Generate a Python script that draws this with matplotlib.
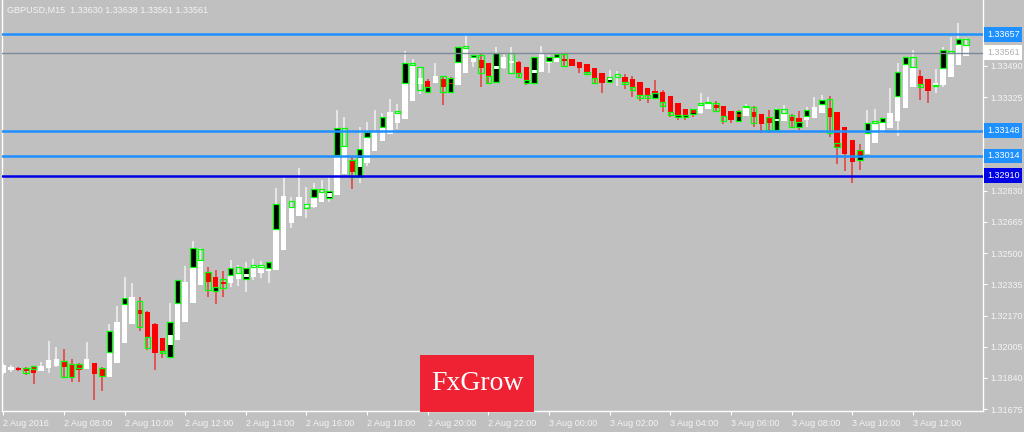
import matplotlib
matplotlib.use("Agg")
import matplotlib.pyplot as plt
from matplotlib.patches import Rectangle

# M15 bars, 2 Aug 2016 06:00 -> 3 Aug 13:45
opens = [
    1.31866, 1.31882, 1.31893, 1.31893, 1.31898, 1.31877, 1.31893, 1.31903, 1.31930, 1.31914,
    1.31914, 1.31888, 1.31919, 1.31893, 1.31845, 1.31919, 1.32024, 1.32125, 1.32199, 1.32188,
    1.32125, 1.32051, 1.32014, 1.32040, 1.32135, 1.32236, 1.32332, 1.32400, 1.32374, 1.32347,
    1.32342, 1.32363, 1.32374, 1.32374, 1.32395, 1.32406, 1.32411, 1.32517, 1.32659, 1.32696,
    1.32744, 1.32744, 1.32770, 1.32797, 1.32808, 1.32919, 1.32993, 1.32956, 1.32977, 1.33041,
    1.33093, 1.33130, 1.33188, 1.33209, 1.33305, 1.33395, 1.33411, 1.33400, 1.33421, 1.33400,
    1.33390, 1.33453, 1.33511, 1.33522, 1.33506, 1.33474, 1.33480, 1.33506, 1.33511, 1.33485,
    1.33453, 1.33458, 1.33506, 1.33511, 1.33527, 1.33527, 1.33511, 1.33501, 1.33480, 1.33453,
    1.33416, 1.33427, 1.33432, 1.33421, 1.33405, 1.33374, 1.33358, 1.33352, 1.33331, 1.33294,
    1.33262, 1.33257, 1.33241, 1.33262, 1.33284, 1.33278, 1.33252, 1.33236, 1.33225, 1.33246,
    1.33236, 1.33215, 1.33199, 1.33199, 1.33220, 1.33215, 1.33204, 1.33215, 1.33241, 1.33268,
    1.33246, 1.33167, 1.33098, 1.33041, 1.33025, 1.33082, 1.33135, 1.33161, 1.33199, 1.33268,
    1.33379, 1.33437, 1.33421, 1.33385, 1.33390, 1.33432, 1.33496, 1.33543]
highs = [
    1.31919, 1.31909, 1.31898, 1.31898, 1.31903, 1.31924, 1.32035, 1.32003, 1.31992, 1.31940,
    1.31919, 1.32029, 1.31920, 1.31898, 1.32125, 1.32220, 1.32374, 1.32342, 1.32268, 1.32194,
    1.32128, 1.32051, 1.32236, 1.32236, 1.32432, 1.32564, 1.32527, 1.32427, 1.32411, 1.32406,
    1.32464, 1.32438, 1.32453, 1.32469, 1.32459, 1.32453, 1.32845, 1.32908, 1.32797, 1.32951,
    1.32850, 1.32871, 1.32887, 1.32898, 1.33257, 1.33220, 1.33014, 1.33167, 1.33193, 1.33257,
    1.33241, 1.33315, 1.33289, 1.33570, 1.33527, 1.33485, 1.33421, 1.33506, 1.33437, 1.33432,
    1.33590, 1.33654, 1.33548, 1.33554, 1.33506, 1.33590, 1.33559, 1.33590, 1.33517, 1.33485,
    1.33538, 1.33596, 1.33548, 1.33559, 1.33554, 1.33527, 1.33511, 1.33501, 1.33480, 1.33453,
    1.33469, 1.33464, 1.33448, 1.33437, 1.33405, 1.33374, 1.33416, 1.33363, 1.33331, 1.33294,
    1.33262, 1.33262, 1.33347, 1.33326, 1.33305, 1.33278, 1.33252, 1.33257, 1.33289, 1.33278,
    1.33236, 1.33257, 1.33268, 1.33284, 1.33236, 1.33252, 1.33273, 1.33326, 1.33337, 1.33331,
    1.33246, 1.33167, 1.33098, 1.33077, 1.33257, 1.33262, 1.33215, 1.33374, 1.33506, 1.33538,
    1.33575, 1.33469, 1.33421, 1.33474, 1.33590, 1.33643, 1.33717, 1.33638]
lows = [
    1.31856, 1.31871, 1.31877, 1.31856, 1.31808, 1.31877, 1.31866, 1.31898, 1.31845, 1.31818,
    1.31818, 1.31888, 1.31723, 1.31771, 1.31845, 1.31919, 1.32024, 1.32125, 1.32088, 1.31988,
    1.31882, 1.31946, 1.31951, 1.32040, 1.32135, 1.32236, 1.32332, 1.32268, 1.32231, 1.32268,
    1.32321, 1.32326, 1.32294, 1.32358, 1.32369, 1.32342, 1.32411, 1.32517, 1.32633, 1.32696,
    1.32686, 1.32739, 1.32770, 1.32770, 1.32808, 1.32919, 1.32839, 1.32871, 1.32961, 1.33041,
    1.33093, 1.33130, 1.33156, 1.33209, 1.33305, 1.33342, 1.33352, 1.33400, 1.33284, 1.33347,
    1.33390, 1.33453, 1.33485, 1.33379, 1.33400, 1.33405, 1.33474, 1.33453, 1.33432, 1.33390,
    1.33400, 1.33458, 1.33453, 1.33511, 1.33485, 1.33490, 1.33453, 1.33448, 1.33395, 1.33347,
    1.33400, 1.33385, 1.33368, 1.33326, 1.33305, 1.33294, 1.33321, 1.33246, 1.33220, 1.33204,
    1.33204, 1.33220, 1.33236, 1.33262, 1.33246, 1.33183, 1.33188, 1.33193, 1.33225, 1.33167,
    1.33135, 1.33135, 1.33151, 1.33199, 1.33167, 1.33151, 1.33167, 1.33215, 1.33241, 1.33114,
    1.32972, 1.32935, 1.32871, 1.32940, 1.33025, 1.33082, 1.33135, 1.33161, 1.33119, 1.33268,
    1.33379, 1.33310, 1.33294, 1.33347, 1.33379, 1.33432, 1.33496, 1.33543]
closes = [
    1.31909, 1.31898, 1.31882, 1.31874, 1.31866, 1.31903, 1.31935, 1.31940, 1.31898, 1.31845,
    1.31882, 1.31940, 1.31861, 1.31851, 1.31977, 1.32135, 1.32231, 1.32268, 1.32178, 1.32056,
    1.31972, 1.31983, 1.32067, 1.32236, 1.32347, 1.32427, 1.32464, 1.32347, 1.32321, 1.32337,
    1.32385, 1.32395, 1.32390, 1.32438, 1.32438, 1.32422, 1.32627, 1.32802, 1.32744, 1.32797,
    1.32755, 1.32797, 1.32823, 1.32818, 1.33020, 1.33066, 1.32929, 1.33004, 1.33114, 1.33141,
    1.33167, 1.33246, 1.33241, 1.33400, 1.33496, 1.33427, 1.33379, 1.33437, 1.33379, 1.33395,
    1.33511, 1.33585, 1.33538, 1.33480, 1.33437, 1.33490, 1.33538, 1.33517, 1.33453, 1.33416,
    1.33469, 1.33554, 1.33517, 1.33538, 1.33517, 1.33490, 1.33480, 1.33458, 1.33427, 1.33400,
    1.33427, 1.33432, 1.33405, 1.33379, 1.33337, 1.33337, 1.33347, 1.33299, 1.33246, 1.33230,
    1.33230, 1.33241, 1.33284, 1.33294, 1.33268, 1.33225, 1.33204, 1.33220, 1.33273, 1.33220,
    1.33183, 1.33188, 1.33209, 1.33241, 1.33199, 1.33193, 1.33225, 1.33273, 1.33289, 1.33220,
    1.33061, 1.33025, 1.32982, 1.33020, 1.33135, 1.33188, 1.33193, 1.33241, 1.33331, 1.33501,
    1.33485, 1.33395, 1.33358, 1.33400, 1.33480, 1.33559, 1.33606, 1.33601]

# green-edged overlay boxes (bar index, top, bottom, dark fill or hollow)
box_bar = [3, 4, 8, 9, 10, 13, 14, 16, 18, 19, 21, 22, 23, 25, 26, 27, 28, 29, 30, 31,
           32, 33, 34, 35, 36, 38, 40, 41, 42, 43, 44, 45, 46, 47, 48, 50, 52, 53, 54, 55,
           56, 58, 59, 60, 61, 62, 63, 64, 65, 67, 68, 69, 70, 72, 73, 74, 77, 78, 80, 81,
           82, 83, 84, 85, 86, 87, 88, 89, 90, 91, 92, 93, 94, 95, 97, 98, 99, 101, 102, 103,
           104, 105, 106, 108, 109, 110, 113, 114, 115, 116, 118, 119, 120, 121, 123, 124, 125, 126, 127]
box_top = [1.31893, 1.31903, 1.31930, 1.31914, 1.31914, 1.31893, 1.32088, 1.32263, 1.32247, 1.32056,
           1.31983, 1.32135, 1.32358, 1.32527, 1.32522, 1.32400, 1.32321, 1.32363, 1.32422, 1.32427,
           1.32422, 1.32438, 1.32438, 1.32453, 1.32760, 1.32776, 1.32760, 1.32839, 1.32839, 1.32829,
           1.33162, 1.33162, 1.32993, 1.33051, 1.33141, 1.33220, 1.33252, 1.33506, 1.33506, 1.33485,
           1.33379, 1.33437, 1.33427, 1.33590, 1.33596, 1.33548, 1.33548, 1.33437, 1.33559, 1.33559,
           1.33453, 1.33416, 1.33538, 1.33538, 1.33554, 1.33554, 1.33458, 1.33427, 1.33432, 1.33448,
           1.33405, 1.33379, 1.33337, 1.33337, 1.33347, 1.33299, 1.33246, 1.33230, 1.33230, 1.33262,
           1.33294, 1.33299, 1.33294, 1.33225, 1.33252, 1.33278, 1.33273, 1.33220, 1.33262, 1.33262,
           1.33230, 1.33193, 1.33257, 1.33310, 1.33315, 1.33082, 1.33046, 1.33188, 1.33199, 1.33215,
           1.33458, 1.33538, 1.33538, 1.33395, 1.33390, 1.33575, 1.33570, 1.33632, 1.33632]
box_bot = [1.31866, 1.31887, 1.31845, 1.31845, 1.31893, 1.31851, 1.31977, 1.32231, 1.32109, 1.31998,
           1.31972, 1.31951, 1.32236, 1.32427, 1.32464, 1.32305, 1.32300, 1.32316, 1.32385, 1.32395,
           1.32363, 1.32427, 1.32427, 1.32422, 1.32627, 1.32744, 1.32739, 1.32797, 1.32823, 1.32792,
           1.33020, 1.33066, 1.32903, 1.32903, 1.33114, 1.33167, 1.33241, 1.33400, 1.33496, 1.33363,
           1.33352, 1.33352, 1.33352, 1.33511, 1.33585, 1.33538, 1.33453, 1.33400, 1.33405, 1.33453,
           1.33432, 1.33400, 1.33400, 1.33517, 1.33538, 1.33490, 1.33448, 1.33400, 1.33405, 1.33432,
           1.33395, 1.33363, 1.33321, 1.33321, 1.33321, 1.33278, 1.33230, 1.33220, 1.33220, 1.33236,
           1.33284, 1.33294, 1.33252, 1.33199, 1.33199, 1.33273, 1.33188, 1.33151, 1.33151, 1.33241,
           1.33167, 1.33167, 1.33225, 1.33289, 1.33135, 1.33061, 1.32993, 1.33135, 1.33188, 1.33193,
           1.33331, 1.33501, 1.33485, 1.33379, 1.33385, 1.33480, 1.33559, 1.33606, 1.33601]
box_dark = [0, 1, 0, 0, 1, 0, 1, 1, 0, 0,
            0, 1, 1, 1, 0, 0, 1, 0, 1, 0,
            1, 1, 0, 1, 1, 0, 0, 1, 0, 1,
            1, 0, 0, 1, 1, 1, 0, 1, 0, 0,
            1, 0, 1, 1, 0, 1, 0, 0, 1, 0,
            0, 1, 1, 1, 1, 0, 0, 0, 1, 0,
            0, 0, 0, 0, 1, 0, 0, 1, 1, 1,
            0, 0, 0, 0, 1, 0, 0, 0, 1, 0,
            0, 1, 1, 1, 0, 0, 1, 1, 0, 1,
            1, 1, 0, 0, 0, 1, 0, 1, 0]

ytick_vals = [1.31675, 1.31840, 1.32005, 1.32170, 1.32335, 1.32500, 1.32665,
              1.32830, 1.32995, 1.33160, 1.33325, 1.33490, 1.33655]
# labels covered by the level boxes in the terminal
ytick_hidden = [1.32995, 1.33160, 1.33655]
xtick_pos = [0, 8, 16, 24, 32, 40, 48, 56, 64, 72, 80, 88, 96, 104, 112, 120]
xtick_labels = ["2 Aug 2016", "2 Aug 08:00", "2 Aug 10:00", "2 Aug 12:00", "2 Aug 14:00",
                "2 Aug 16:00", "2 Aug 18:00", "2 Aug 20:00", "2 Aug 22:00", "3 Aug 00:00",
                "3 Aug 02:00", "3 Aug 04:00", "3 Aug 06:00", "3 Aug 08:00", "3 Aug 10:00",
                "3 Aug 12:00"]

levels = [1.33657, 1.33148, 1.33014, 1.32910]
level_colors = ["#1e90ff", "#1e90ff", "#1e90ff", "#0000e6"]
bid = 1.33561

bg = "#c0c0c0"
fig = plt.figure(figsize=(10.24, 4.32), dpi=100, facecolor=bg)
ax = fig.add_axes([2 / 1024, 21 / 432, 981 / 1024, 411 / 432])
ax.set_facecolor(bg)

n = len(opens)
x = list(range(n))
w = 0.72
up = [c >= o for o, c in zip(opens, closes)]

# wicks
wick_col = ["#f2f2f2" if u else "#e63c3c" for u in up]
ax.vlines(x, lows, highs, colors=wick_col, linewidth=1.1, zorder=2)

# dark fills of overlay boxes
dk = [i for i, d in enumerate(box_dark) if d]
ax.bar([box_bar[i] for i in dk], [box_top[i] - box_bot[i] for i in dk], w,
       bottom=[box_bot[i] for i in dk], color="#000000", zorder=3)

# main bodies
bot = [min(o, c) for o, c in zip(opens, closes)]
hgt = [max(abs(c - o), 0.00003) for o, c in zip(opens, closes)]
ax.bar(x, hgt, w, bottom=bot, color=["#ffffff" if u else "#ff0000" for u in up],
       linewidth=0, zorder=4)

# green outlines
ax.bar(box_bar, [max(t - b, 0.00003) for t, b in zip(box_top, box_bot)], w,
       bottom=box_bot, facecolor="none", edgecolor="#00ff00", linewidth=0.9, zorder=5)

# level lines
for lv, col in zip(levels, level_colors):
    ax.axhline(lv, color=col, linewidth=1.8, zorder=6)
ax.axhline(bid, color="#7b8a99", linewidth=1.0, zorder=6)

ax.set_xlim(-0.17, 129.25)
ax.set_ylim(1.31665, 1.33839)

for s in ["left", "bottom", "right"]:
    ax.spines[s].set_color("white")
    ax.spines[s].set_linewidth(1.0)
ax.spines["top"].set_visible(False)

ax.yaxis.tick_right()
ax.set_yticks(ytick_vals)
ax.set_yticklabels(["" if v in ytick_hidden else f"{v:.5f}" for v in ytick_vals],
                   fontfamily="Liberation Sans")
ax.tick_params(axis="y", colors="white", labelcolor="#f4f4f4", direction="out",
               length=3, width=0.8, labelsize=6.5, pad=2)
ax.set_xticks(xtick_pos)
ax.set_xticklabels(xtick_labels, fontfamily="Liberation Sans", ha="left")
ax.tick_params(axis="x", colors="white", labelcolor="#f4f4f4", direction="out",
               length=3, width=0.8, labelsize=6.5, pad=3)

# price label boxes at the right
tr = ax.get_yaxis_transform()
for lv, col in zip(levels, level_colors):
    ax.text(1.004, lv, f"{lv:.5f}", transform=tr, va="center", ha="left",
            fontsize=6.5, fontfamily="Liberation Sans", color="white", clip_on=False,
            zorder=10, bbox=dict(boxstyle="square,pad=0.3", fc=col, ec="none"))
ax.text(1.004, bid, f"{bid:.5f}", transform=tr, va="center", ha="left",
        fontsize=6.5, fontfamily="Liberation Sans", color="#b0b0b0", clip_on=False,
        zorder=10, bbox=dict(boxstyle="square,pad=0.3", fc="white", ec="none"))

fig.text(7 / 1024, 1 - 10 / 432, "GBPUSD,M15  1.33630 1.33638 1.33561 1.33561",
         fontsize=6.5, fontfamily="Liberation Sans", color="#f4f4f4", va="center")

# logo
fig.patches.append(Rectangle((420 / 1024, 20 / 432), 114 / 1024, 57 / 432,
                             transform=fig.transFigure, facecolor="#ee2233",
                             edgecolor="none", zorder=5))
fig.text(477 / 1024, 1 - 384 / 432, "FxGrow", fontsize=20, fontfamily="Liberation Serif",
         color="white", ha="center", va="center", zorder=6)

fig.savefig("out.png", dpi=100, facecolor=bg)
